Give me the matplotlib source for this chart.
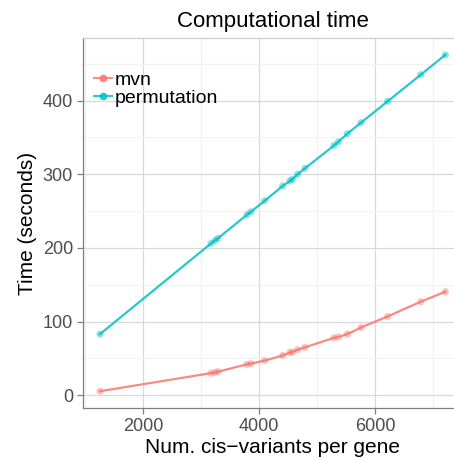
import matplotlib
matplotlib.use("Agg")
import matplotlib.pyplot as plt
from matplotlib.ticker import MultipleLocator

plt.rcParams['font.family'] = ['Liberation Sans', 'DejaVu Sans']

# number of cis-variants per gene (shared by both methods)
n_variants = [1259, 3172, 3241, 3293, 3793, 3862, 4098, 4408, 4534, 4575,
              4667, 4793, 5293, 5368, 5523, 5759, 6218, 6788, 7212]
# time in seconds
time_mvn = [5.5, 30, 31, 32, 42, 43, 47, 54, 58, 58.5,
            62, 65, 78, 79, 83, 92, 107, 127, 140.5]
time_perm = [83, 206, 210, 213, 245, 249, 264, 284, 291, 293,
             300, 308, 339, 344, 355, 370, 399, 435, 462]

series = ['mvn', 'permutation']
colors = {'mvn': '#F8766D', 'permutation': '#00BFC4'}

fig = plt.figure(figsize=(4.54, 4.59), dpi=100)
ax = fig.add_axes([0.1822, 0.1111, 0.8368, 0.806])

for name, ys in zip(series, [time_mvn, time_perm]):
    ax.plot(n_variants, ys, color=colors[name], lw=1.6, alpha=0.85, zorder=3)
    ax.scatter(n_variants, ys, color=colors[name], s=26, alpha=0.45,
               edgecolors='none', zorder=4)

ax.set_xlim(961, 7510)
ax.set_ylim(-17.3, 484.8)
ax.xaxis.set_major_locator(MultipleLocator(2000))
ax.xaxis.set_minor_locator(MultipleLocator(1000))
ax.yaxis.set_major_locator(MultipleLocator(100))
ax.yaxis.set_minor_locator(MultipleLocator(50))

ax.grid(which='major', color='#D9D9D9', lw=0.9, zorder=0)
ax.grid(which='minor', color='#F2F2F2', lw=0.9, zorder=0)
ax.set_axisbelow(True)

ax.spines['right'].set_visible(False)
ax.spines['top'].set_color('#CFCFCF')
ax.spines['top'].set_linewidth(0.9)
for s in ['left', 'bottom']:
    ax.spines[s].set_color('#7F7F7F')
    ax.spines[s].set_linewidth(0.9)

ax.tick_params(which='major', length=4, width=0.9, color='#7F7F7F',
               labelsize=13, labelcolor='#4D4D4D', pad=3)
ax.tick_params(which='minor', length=0)

ax.set_xlabel('Num. cis\u2212variants per gene', fontsize=15, labelpad=2)
ax.set_ylabel('Time (seconds)', fontsize=15, labelpad=4)
ax.set_title('Computational time', fontsize=16, pad=8)

handles = [plt.Line2D([], [], color=colors[n], lw=1.6, marker='o',
                      markersize=4.5, alpha=0.8) for n in series]
leg = ax.legend(handles, series, loc='upper left',
                bbox_to_anchor=(0.02, 0.92), fontsize=14, frameon=False,
                handlelength=0.9, handletextpad=0.15, labelspacing=0.0,
                borderpad=0.2, borderaxespad=0)

fig.savefig('out.png', dpi=100)
